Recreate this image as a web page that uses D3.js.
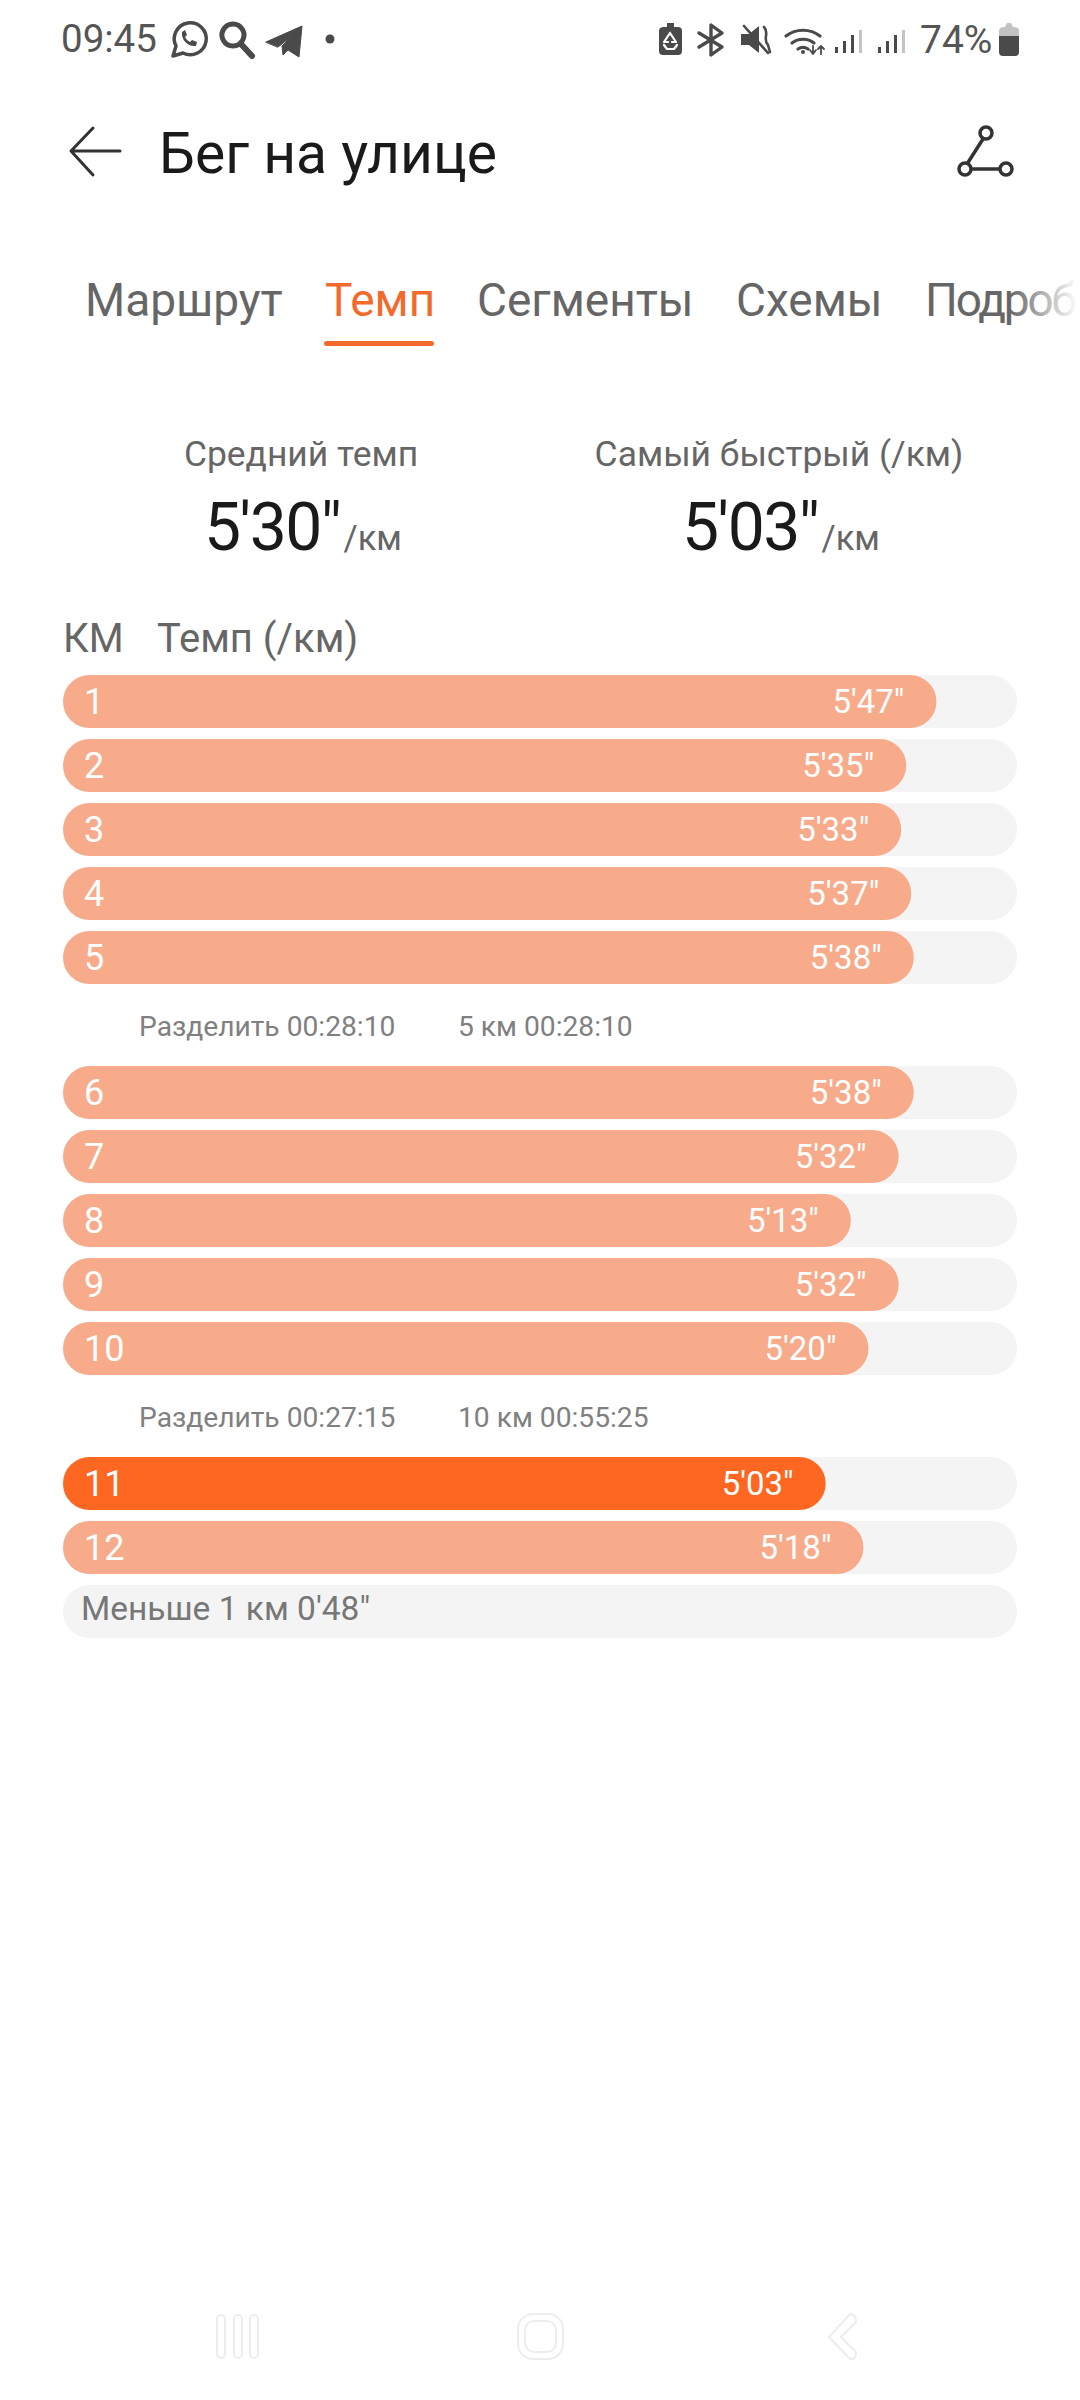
<!DOCTYPE html>
<html lang="ru">
<head>
<meta charset="utf-8">
<title>Бег на улице</title>
<script src="https://cdn.jsdelivr.net/npm/d3@7"></script>
<style>
    html, body { margin: 0; padding: 0; background: #fff; }
    svg { display: block; }
    text { font-family: Roboto, "Noto Sans", sans-serif; }
</style>
</head>
<body>
<div id="chart"></div>
<script>
// Pace per kilometre, in seconds
var kmLabels = ["1", "2", "3", "4", "5", "6", "7", "8", "9", "10", "11", "12"];
var paceSeconds = [347, 335, 333, 337, 338, 338, 332, 313, 332, 320, 303, 318];
var paceMax = 379;

var splitLabels = ["Разделить 00:28:10", "Разделить 00:27:15"];
var totalLabels = ["5 км 00:28:10", "10 км 00:55:25"];
var restLabel = "Меньше 1 км 0'48\"";

var tabLabels = ["Маршрут", "Темп", "Сегменты", "Схемы", "Подроб"];
var statLabels = ["Средний темп", "Самый быстрый (/км)"];
var statValues = ["5'30\"", "5'03\""];

var svg = d3.select("#chart").append("svg")
    .attr("width", 1080)
    .attr("height", 2400);

var orange = "#f26b2d";
var barLight = "#f8ab8a";
var barFast = "#fd6722";
var track = "#f4f4f4";

function formatPace(s) {
    var sec = s % 60;
    return Math.floor(s / 60) + "'" + (sec < 10 ? "0" + sec : sec) + "\"";
}

function label(parent, x, y, str, size, color, anchor) {
    return parent.append("text")
        .attr("x", x)
        .attr("y", y)
        .attr("font-size", size)
        .attr("fill", color)
        .attr("text-anchor", anchor || "start")
        .text(str);
}

//Status bar
var statusBar = svg.append("g");
label(statusBar, 61, 52, "09:45", 38.5, "#555");
label(statusBar, 920, 53, "74%", 39, "#555");

function icon(d, fill, stroke, width) {
    return statusBar.append("path")
        .attr("d", d)
        .attr("fill", fill)
        .attr("stroke", stroke || "none")
        .attr("stroke-width", width || 0)
        .attr("stroke-linecap", "round")
        .attr("stroke-linejoin", "round");
}

// whatsapp
icon("M173 56 L176 46 A16 16 0 1 1 183 53 Z", "none", "#4a4a4a", 3.5);
icon("M182 32 C181 40 188 47 196 46 L197 42 L192 40 L190 42 C188 41 186 39 185 37 L187 35 L185 30 Z", "#4a4a4a");
// search
icon("M233 24 A11 11 0 1 1 232.9 24 Z", "none", "#4a4a4a", 5);
icon("M241 44 L252 56", "none", "#4a4a4a", 6);
// telegram
icon("M266 42 L302 26 L299 57 L288 50 L283 55 L282 46 L292 36 L278 47 Z", "#4a4a4a", "#4a4a4a", 1);
statusBar.append("circle").attr("cx", 330).attr("cy", 39).attr("r", 4.5).attr("fill", "#4a4a4a");
// battery saver
icon("M664 27 L667 27 L667 23 L674 23 L674 27 L678 27 Q682 27 682 31 L682 51 Q682 55 678 55 L663 55 Q659 55 659 51 L659 31 Q659 27 664 27 Z", "#4a4a4a");
icon("M670 33 L664 42 L668 42 M670 33 L676 42 L672 42 M664 45 L667 49 L674 49 L677 45", "none", "#fff", 2.2);
// bluetooth
icon("M699 33 L722 47 L711 55 L711 25 L722 33 L699 47", "none", "#4a4a4a", 3.4);
// muted speaker
icon("M741 34 L749 34 L759 26 L759 53 L749 45 L741 45 Z", "#4a4a4a");
icon("M744 26 L768 53 M764 27 C770 33 762 39 768 45 L770 52", "none", "#4a4a4a", 2.6);
// wifi
icon("M786 36 A28 28 0 0 1 820 36 M792 43 A18 18 0 0 1 814 43 M798 49 A9 9 0 0 1 808 49", "none", "#4a4a4a", 3.2);
statusBar.append("circle").attr("cx", 803).attr("cy", 52).attr("r", 2).attr("fill", "#4a4a4a");
icon("M813 46 L813 54 M810 50 L813 54 L816 50 M821 54 L821 46 M818 49 L821 46 L824 49", "none", "#4a4a4a", 1.8);
// signal bars
[835, 878].forEach(function(x0) {
    [[0, 47], [8, 41], [16, 35]].forEach(function(b) {
        statusBar.append("rect")
            .attr("x", x0 + b[0]).attr("y", b[1])
            .attr("width", 3).attr("height", 53 - b[1])
            .attr("fill", "#4a4a4a");
    });
    statusBar.append("rect")
        .attr("x", x0 + 24).attr("y", 30)
        .attr("width", 3).attr("height", 23)
        .attr("fill", "#c4c4c4");
});
// battery
icon("M1005 27 L1007 23 L1011 23 L1013 27 Q1019 27 1019 31 L1019 36 L999 36 L999 31 Q999 27 1005 27 Z", "#c2c2c2");
icon("M999 36 L1019 36 L1019 52 Q1019 56 1015 56 L1003 56 Q999 56 999 52 Z", "#4a4a4a");

//Header
svg.append("path")
    .attr("d", "M93 128 L71 151 L93 175 M71 151 L120 151")
    .attr("fill", "none")
    .attr("stroke", "#333")
    .attr("stroke-width", 3)
    .attr("stroke-linecap", "round")
    .attr("stroke-linejoin", "round");

label(svg, 159, 173, "Бег на улице", 57, "#1a1a1a");

var routeNodes = [[986, 133], [965, 169], [1006, 169]];
svg.append("path")
    .attr("d", "M983 139 L967 164 M971 169 L1000 169")
    .attr("fill", "none")
    .attr("stroke", "#333")
    .attr("stroke-width", 3.5);
svg.selectAll("circle.route")
    .data(routeNodes)
    .enter()
    .append("circle")
    .attr("class", "route")
    .attr("cx", function(d) { return d[0]; })
    .attr("cy", function(d) { return d[1]; })
    .attr("r", 6)
    .attr("fill", "none")
    .attr("stroke", "#333")
    .attr("stroke-width", 3.5);

//Tabs
var fade = svg.append("defs").append("linearGradient")
    .attr("id", "tabFade")
    .attr("gradientUnits", "userSpaceOnUse")
    .attr("x1", 1010).attr("x2", 1078)
    .attr("y1", 0).attr("y2", 0);
fade.append("stop").attr("offset", 0).attr("stop-color", "#666");
fade.append("stop").attr("offset", 1).attr("stop-color", "#fff");

var tabX = [85, 325, 477, 736, 925];
svg.selectAll("text.tab")
    .data(tabLabels)
    .enter()
    .append("text")
    .attr("class", "tab")
    .attr("x", function(d, i) { return tabX[i]; })
    .attr("y", 316)
    .attr("font-size", 46)
    .attr("fill", function(d, i) {
        if (i === 1) return orange;
        return i === 4 ? "url(#tabFade)" : "#666";
    })
    .attr("textLength", function(d, i) { return i === 4 ? 152 : null; })
    .text(function(d) { return d; });

svg.append("rect")
    .attr("x", 324).attr("y", 341)
    .attr("width", 110).attr("height", 5)
    .attr("rx", 2.5)
    .attr("fill", orange);

//Average and fastest pace
var statX = d3.scalePoint().domain([0, 1]).range([301, 779]);
statLabels.forEach(function(d, i) {
    label(svg, statX(i), 466, d, 35.4, "#666", "middle");
    var v = label(svg, statX(i) - 97, 550, statValues[i], 66, "#1a1a1a")
        .attr("letter-spacing", -1.5);
    var w = v.node().getComputedTextLength();
    label(svg, statX(i) - 97 + w + 3, 550, "/км", 34.5, "#666");
});

label(svg, 63, 652, "КМ", 40, "#666");
label(svg, 157, 652, "Темп (/км)", 40, "#666");

//Bars
var x = d3.scaleLinear()
    .domain([0, paceMax])
    .range([63, 1017]);

var barHeight = 53;
var rowStep = d3.scaleLinear().domain([0, 1]).range([675, 739]);
var splitGap = 71 / 64;

function rowY(i) {
    return rowStep(i + splitGap * Math.floor(i / 5));
}

var fastest = d3.min(paceSeconds);

var row = svg.selectAll("g.row")
    .data(paceSeconds)
    .enter()
    .append("g")
    .attr("class", "row")
    .attr("transform", function(d, i) {
        return "translate(0," + rowY(i) + ")";
    });

row.append("rect")
    .attr("x", x(0))
    .attr("width", x(paceMax) - x(0))
    .attr("height", barHeight)
    .attr("rx", barHeight / 2)
    .attr("fill", track);

row.append("rect")
    .attr("x", x(0))
    .attr("width", function(d) { return x(d) - x(0); })
    .attr("height", barHeight)
    .attr("rx", barHeight / 2)
    .attr("fill", function(d) { return d === fastest ? barFast : barLight; });

row.append("text")
    .attr("x", 84)
    .attr("y", 39)
    .attr("font-size", 36)
    .attr("fill", "#fff")
    .text(function(d, i) { return kmLabels[i]; });

row.append("text")
    .attr("x", function(d) { return x(d) - 32; })
    .attr("y", 38)
    .attr("font-size", 33)
    .attr("text-anchor", "end")
    .attr("fill", "#fff")
    .text(function(d) { return formatPace(d); });

//Split lines
splitLabels.forEach(function(d, i) {
    var y = rowY(5 * (i + 1)) - 30;
    label(svg, 139, y, d, 28.2, "#808080");
    label(svg, 458, y, totalLabels[i], 28.2, "#808080");
});

//Last partial kilometre
var lastY = rowY(12);
svg.append("rect")
    .attr("x", x(0))
    .attr("y", lastY)
    .attr("width", x(paceMax) - x(0))
    .attr("height", barHeight)
    .attr("rx", barHeight / 2)
    .attr("fill", track);
label(svg, 81, lastY + 35, restLabel, 33.5, "#777");

//Navigation bar
var nav = svg.append("g")
    .attr("fill", "none")
    .attr("stroke", "#ededed")
    .attr("stroke-width", 2);
[221, 238, 254].forEach(function(cx) {
    nav.append("rect")
        .attr("x", cx - 4).attr("y", 2315)
        .attr("width", 8).attr("height", 43)
        .attr("rx", 4);
});
nav.append("rect")
    .attr("x", 518).attr("y", 2314)
    .attr("width", 45).attr("height", 45)
    .attr("rx", 15);
nav.append("rect")
    .attr("x", 525).attr("y", 2321)
    .attr("width", 31).attr("height", 31)
    .attr("rx", 9);
nav.append("path")
    .attr("d", "M850 2314 Q856 2314 856 2322 L841 2337 L856 2352 Q856 2360 850 2359 L829 2337 Z");
</script>
</body>
</html>
